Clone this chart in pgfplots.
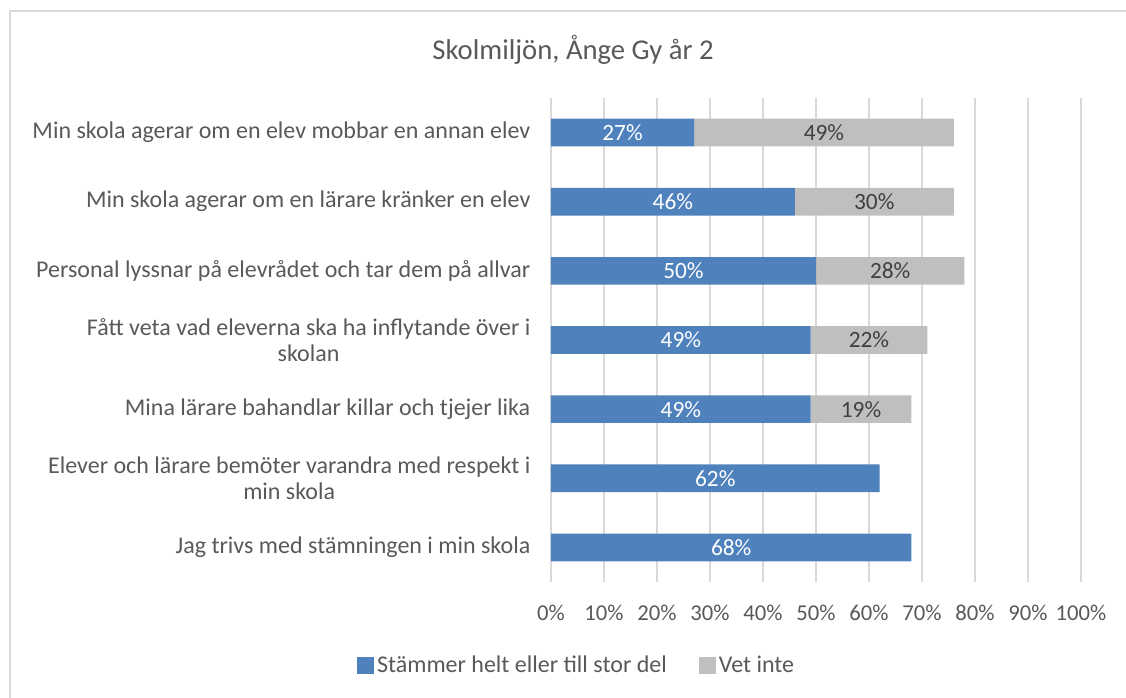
\documentclass[border=0pt]{standalone}
\usepackage{pgfplots}
\pgfplotsset{compat=1.18}
\usepackage{pgfplotstable}
\usepackage{fontspec}
\setmainfont{Carlito}

\definecolor{barblue}{HTML}{4F81BD}
\definecolor{bargrey}{HTML}{BFBFBF}
\definecolor{txt}{HTML}{595959}
\definecolor{gridc}{HTML}{D9D9D9}

% rows from bottom (0) to top (6)
\pgfplotstableread{
row stammer vetinte
0   68      0
1   62      0
2   49      19
3   49      22
4   50      28
5   46      30
6   27      49
}\skoldata

\begin{document}
\begin{tikzpicture}
\useasboundingbox (-413.25pt,-87pt) rectangle (431.25pt,436.5pt);
\draw[gridc, line width=1.2pt] (-405.75pt,-100pt) -- (-405.75pt,428.25pt) -- (450pt,428.25pt);
\begin{axis}[
  scale only axis,
  width=397.5pt, height=363pt,
  xbar stacked,
  bar width=0.4,
  xmin=0, xmax=100,
  ymin=-0.5, ymax=6.5,
  xtick={0,10,...,100},
  ytick={0,...,6},
  yticklabels={
    Jag trivs med stämningen i min skola,
    Elever och lärare bemöter varandra med respekt i\\min skola,
    Mina lärare bahandlar killar och tjejer lika,
    Fått veta vad eleverna ska ha inflytande över i\\skolan,
    Personal lyssnar på elevrådet och tar dem på allvar,
    Min skola agerar om en lärare kränker en elev,
    Min skola agerar om en elev mobbar en annan elev},
  /pgf/number format/assume math mode=true,
  xticklabel={\pgfmathprintnumber{\tick}\%},
  xticklabel style={font=\fontsize{17}{20}\selectfont, text=txt, anchor=base, yshift=-29pt},
  yticklabel style={font=\fontsize{18}{19}\selectfont, text=txt, align=center, anchor=east, xshift=-12pt},
  axis line style={draw=none},
  major tick length=0pt,
  xmajorgrids,
  grid style={gridc, line width=1.1pt},
  point meta=explicit,
  nodes near coords={\pgfmathfloatifflags{\pgfplotspointmeta}{0}{}{\pgfmathprintnumber{\pgfplotspointmeta}\%}},
  every node near coord/.append style={font=\fontsize{17.5}{20}\selectfont},
  legend columns=2,
  legend style={at={(0.049,-0.172)}, anchor=center, draw=none, fill=none,
    font=\fontsize{18}{20}\selectfont, text=txt,
    /tikz/every even column/.append style={column sep=22pt}},
  legend image code/.code={\fill (0pt,-6.5pt) rectangle (13pt,6.5pt);},
]
\addplot[fill=barblue, draw=none, every node near coord/.append style={text=white}]
  table[x=stammer, y=row, meta=stammer] {\skoldata};
\addplot[fill=bargrey, draw=none, every node near coord/.append style={text=black!75}]
  table[x=vetinte, y=row, meta=vetinte] {\skoldata};
\legend{Stämmer helt eller till stor del, Vet inte}
\end{axis}
\node[text=txt, font=\fontsize{21.5}{25}\selectfont] at (16.5pt,399pt) {Skolmiljön, Ånge Gy år 2};
\end{tikzpicture}
\end{document}
